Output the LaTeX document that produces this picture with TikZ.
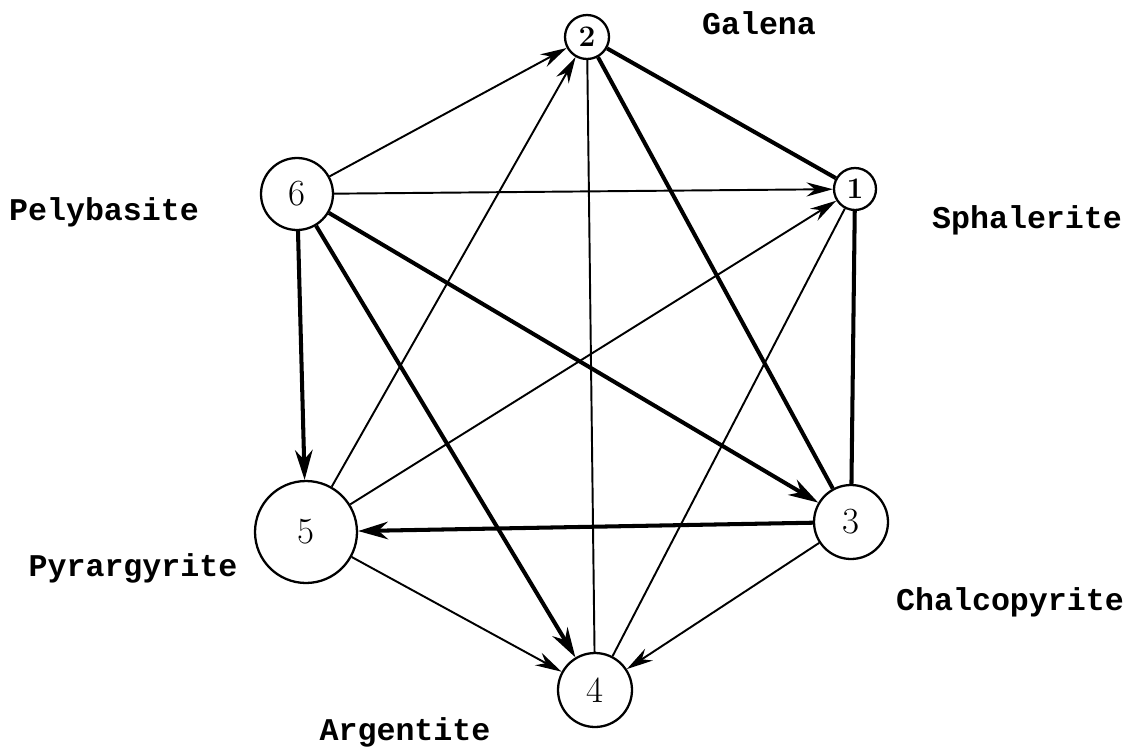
\documentclass[tikz,border=0pt]{standalone}
\usepackage{fontspec}
\newfontfamily\labfont{Liberation Mono}
\usetikzlibrary{arrows.meta}
\begin{document}
\begin{tikzpicture}[x=0.02cm,y=-0.02cm,
  vert/.style={draw,circle,inner sep=0pt,line width=1.3pt,font=\fontsize{21}{23}\selectfont},
  svert/.style={vert,font=\fontsize{17}{19}\selectfont\bfseries},
  lab/.style={font=\labfont\bfseries\fontsize{18}{20}\selectfont,inner sep=0pt},
  thin/.style={line width=1.1pt},
  thick/.style={line width=2.3pt},
  tarr/.style={thin,-{Stealth[length=15pt,width=8pt]}},
  karr/.style={thick,-{Stealth[length=17pt,width=10pt]}}]
\useasboundingbox (0,0) rectangle (1125,747);
% vertices
\node[svert,minimum size=0.88cm] (n2) at (587,37) {2};
\node[svert,minimum size=0.84cm] (n1) at (855,189) {1};
\node[vert,minimum size=1.44cm] (n6) at (297,194) {6};
\node[vert,minimum size=2.04cm] (n5) at (306,532) {5};
\node[vert,minimum size=1.48cm] (n3) at (851,522) {3};
\node[vert,minimum size=1.48cm] (n4) at (595,690) {4};
% labels
\node[lab] (lgal) at (759,23) {Galena};
\node[lab] (lsph) at (1027,220) {Sphalerite};
\node[lab] (lpel) at (104,212) {Pelybasite};
\node[lab] (lpyr) at (133,568) {Pyrargyrite};
\node[lab] (lcha) at (1010,602) {Chalcopyrite};
\node[lab] (larg) at (405,732) {Argentite};
% undirected
\draw[thick] (n2) -- (n1);
\draw[thick] (n2) -- (n3);
\draw[thick] (n1) -- (n3);
\draw[thin] (n4) -- (n2);
\draw[thin] (n4) -- (n1);
% directed
\draw[tarr] (n6) -- (n2);
\draw[tarr] (n6) -- (n1);
\draw[karr] (n6) -- (n5);
\draw[karr] (n6) -- (n4);
\draw[karr] (n6) -- (n3);
\draw[tarr] (n5) -- (n2);
\draw[tarr] (n5) -- (n1);
\draw[tarr] (n5) -- (n4);
\draw[karr] (n3) -- (n5);
\draw[tarr] (n3) -- (n4);
\end{tikzpicture}
\end{document}
